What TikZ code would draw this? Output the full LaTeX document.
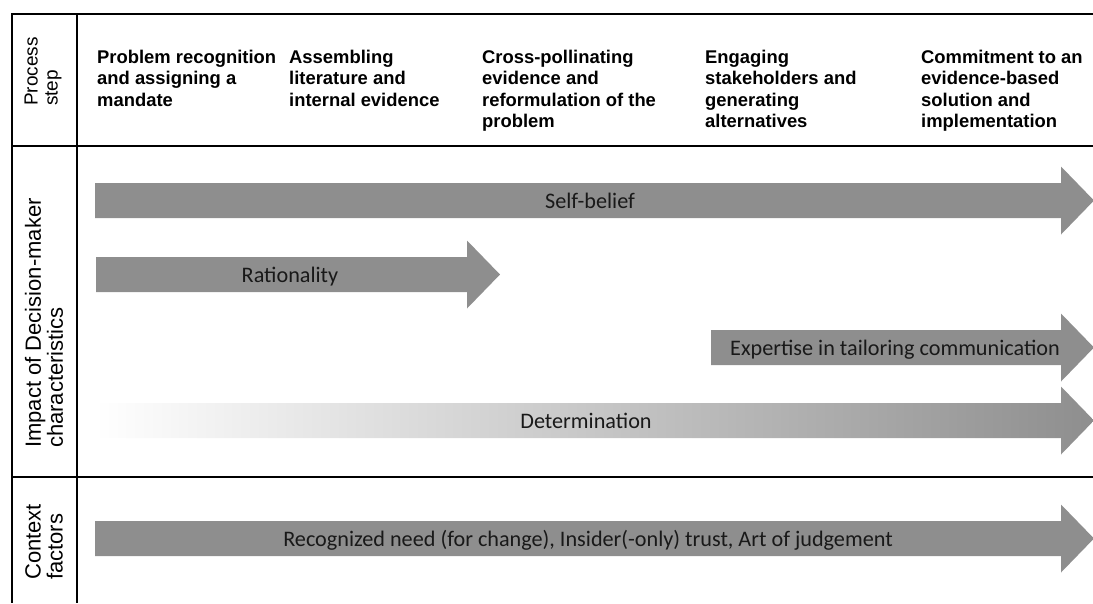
\documentclass[tikz,border=0pt]{standalone}
\usepackage{fontspec}
\setmainfont{Liberation Sans}
\newfontfamily\barfont{Carlito}
\definecolor{bargray}{RGB}{142,142,142}

\begin{document}
\begin{tikzpicture}[x=1pt,y=-1pt,
  steplabel/.style={anchor=north west,align=left,inner sep=0pt,
    font=\bfseries\fontsize{18.4}{21.5}\selectfont},
  rowlabel/.style={rotate=90,anchor=west,align=left,inner sep=0pt,
    font=\fontsize{22}{22}\selectfont},
  barlabel/.style={anchor=base,inner sep=0pt,text=black!90,
    font=\barfont\fontsize{22.2}{26}\selectfont}]
  % Configurable parameters
  \def\shafthalf{17.5}
  \def\headhalf{34}
  \def\headlen{33}
  \def\headbase{1061}
  %
  \useasboundingbox (0,0) rectangle (1093,603);
  %
  % Table lines
  \draw[line width=1.8pt] (1093,14) -- (12,14) -- (12,603);
  \draw[line width=1.8pt] (77,14) -- (77,603);
  \draw[line width=1.8pt] (12,146) -- (1093,146);
  \draw[line width=1.8pt] (12,477) -- (1093,477);
  %
  % Row labels
  \node[rowlabel,font=\fontsize{19}{20}\selectfont] (process) at (43,106) {Process\\step};
  \node[rowlabel] (impact) at (44,448) {Impact of Decision-maker\\characteristics};
  \node[rowlabel] (context) at (44,580) {Context\\factors};
  %
  % Process steps
  \node[steplabel] (recognition) at (97,49.5) {Problem recognition\\and assigning a\\mandate};
  \node[steplabel] (assembling) at (289,49.5) {Assembling\\literature and\\internal evidence};
  \node[steplabel] (crosspoll) at (482,49.5) {Cross-pollinating\\evidence and\\reformulation of the\\problem};
  \node[steplabel] (engaging) at (705,49.5) {Engaging\\stakeholders and\\generating\\alternatives};
  \node[steplabel] (commitment) at (921,49.5) {Commitment to an\\evidence-based\\solution and\\implementation};
  %
  % Block arrows: options, start, head base, centre line
  \def\bigarrow#1#2#3#4{%
    \path[#1] (#2,#4-\shafthalf) -- (#3,#4-\shafthalf) -- (#3,#4-\headhalf)
      -- (#3+\headlen,#4) -- (#3,#4+\headhalf) -- (#3,#4+\shafthalf)
      -- (#2,#4+\shafthalf) -- cycle;}
  %
  \bigarrow{fill=bargray}{95}{\headbase}{200.5}
  \node[barlabel] (selfbelief) at (590,208.5) {Self-belief};
  %
  \bigarrow{fill=bargray}{96}{467}{274.5}
  \node[barlabel] (rationality) at (290,282.5) {Rationality};
  %
  \bigarrow{fill=bargray}{711}{\headbase}{347.5}
  \node[barlabel] (expertise) at (895,355.5) {Expertise in tailoring communication};
  %
  \bigarrow{left color=white,right color=bargray}{95}{\headbase}{420.5}
  \node[barlabel] (determination) at (586,428.5) {Determination};
  %
  \bigarrow{fill=bargray}{95}{\headbase}{538.5}
  \node[barlabel] (contextbar) at (588,546.5) {Recognized need (for change), Insider(-only) trust, Art of judgement};
  %
\end{tikzpicture}
\end{document}
